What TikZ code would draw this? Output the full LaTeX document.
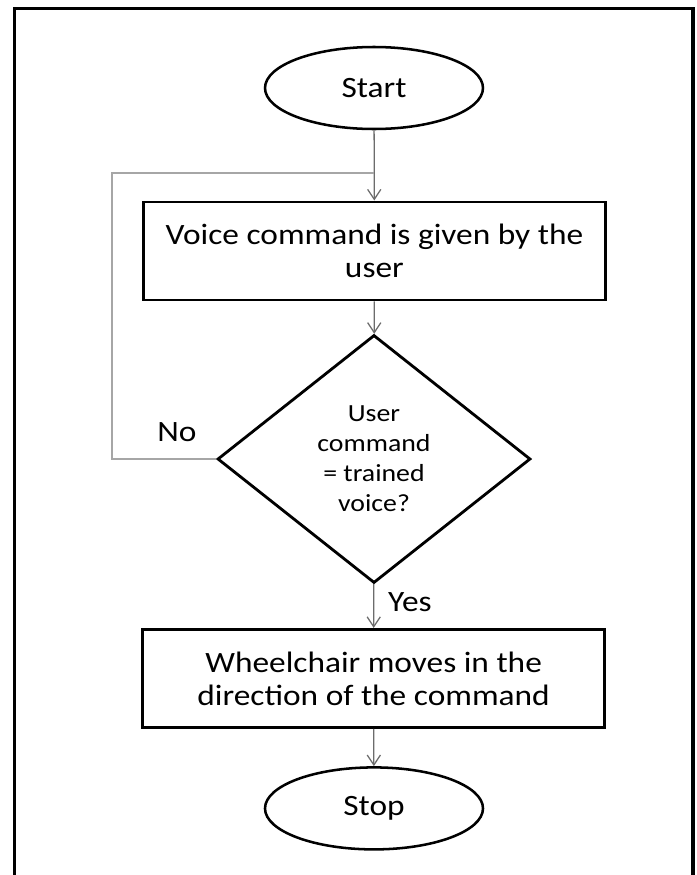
\documentclass[tikz,border=0pt]{standalone}
\usepackage{fontspec}
\setmainfont[FakeStretch=1.13]{Carlito}
\usepackage{tikz}
\usetikzlibrary{arrows.meta,shapes.geometric}
\tikzset{
  term/.style={ellipse,draw,line width=1.8pt,minimum width=5.45cm,minimum height=2.05cm,inner sep=0pt,font=\fontsize{21}{23}\selectfont},
  proc/.style={rectangle,draw,line width=2.1pt,minimum width=11.55cm,minimum height=2.45cm,align=center,font=\fontsize{21}{23.5}\selectfont},
  dec/.style={diamond,draw,line width=2pt,minimum width=7.825cm,minimum height=6.2cm,inner sep=0pt,align=center,font=\fontsize{17.5}{21.3}\selectfont},
  flow/.style={line width=0.9pt,gray!85!black,-{Straight Barb[length=2.5mm,width=3.3mm]}},
  back/.style={line width=1pt,gray!70},
  lbl/.style={font=\fontsize{21}{23}\selectfont},
  frm/.style={line width=2.4pt}
}
\begin{document}
\begin{tikzpicture}
\useasboundingbox (0,0) rectangle (17.4,-21.875);
\draw[frm] (0.357,-21.9) |- (17.325,-0.208) -- (17.325,-21.9);
\node[term] (start) at (9.35,-2.2) {Start};
\node[proc] (voice) at (9.36,-6.275) {Voice command is given by the\\user};
\node[dec] (check) at (9.35,-11.475) {User\\command\\= trained\\voice?};
\node[proc] (move) at (9.34,-16.96) {Wheelchair moves in the\\direction of the command};
\node[term] (stop) at (9.35,-20.21) {Stop};
\coordinate (loop) at (2.8,-4.325);
\coordinate (join) at (9.35,-4.325);
\draw[flow] (start) -- (voice);
\draw[flow] (voice) -- (check);
\draw[flow] (check) -- (move);
\draw[flow] (move) -- (stop);
\draw[back] (check.west) -| (loop) -- (join);
\node[lbl] (no) at (4.425,-10.8) {No};
\node[lbl] (yes) at (10.25,-15.05) {Yes};
\end{tikzpicture}
\end{document}
